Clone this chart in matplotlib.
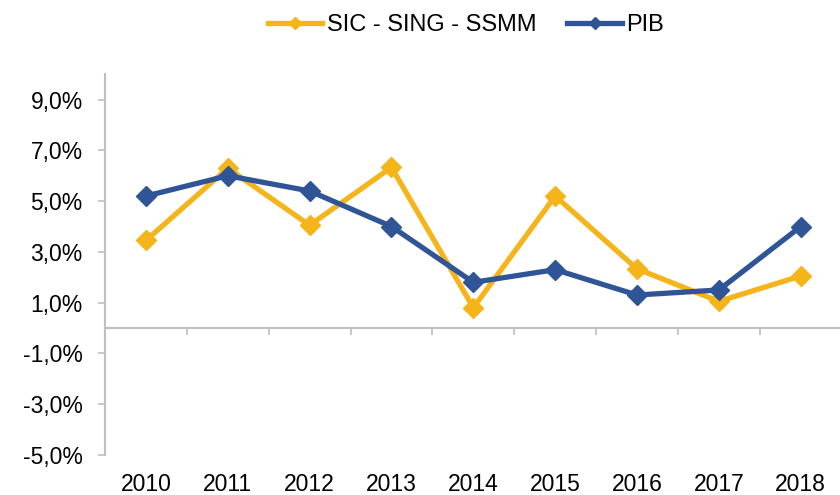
import numpy as np
import matplotlib; matplotlib.use('Agg')
import matplotlib.pyplot as plt
from matplotlib.ticker import FuncFormatter, FixedLocator

plt.rcParams['font.family'] = ['Liberation Sans', 'DejaVu Sans']

years = ['2010', '2011', '2012', '2013', '2014', '2015', '2016', '2017', '2018']
sic = [3.45, 6.3, 4.05, 6.33, 0.8, 5.2, 2.33, 1.05, 2.05]
pib = [5.2, 6.0, 5.4, 4.0, 1.8, 2.3, 1.3, 1.5, 4.0]

yellow = '#F5B41A'
blue = '#2F5597'
grey = '#BFBFBF'

fig = plt.figure(figsize=(8.4, 4.95), dpi=100)
ax = fig.add_axes([0.125, 0.081, 0.877, 0.769])

x = np.arange(len(years))
ax.plot(x, sic, color=yellow, lw=3.8, marker='D', ms=10.5, label='SIC - SING - SSMM')
ax.plot(x, pib, color=blue, lw=3.8, marker='D', ms=10.5, label='PIB')

ax.set_xlim(-0.5, len(years) - 0.5)
ax.set_ylim(-5, 10)
ax.set_yticks(np.arange(-5, 10, 2))
ax.yaxis.set_major_formatter(FuncFormatter(lambda v, p: f'{v:.1f}%'.replace('.', ',')))
ax.tick_params(axis='y', length=5, width=1.2, color=grey, labelsize=16.5, pad=11)

# x axis crosses at zero, ticks between categories
for s in ['top', 'right']:
    ax.spines[s].set_visible(False)
ax.spines['left'].set_color(grey)
ax.spines['left'].set_linewidth(1.5)
ax.spines['bottom'].set_position(('data', 0))
ax.spines['bottom'].set_color(grey)
ax.spines['bottom'].set_linewidth(1.5)
ax.xaxis.set_major_locator(FixedLocator(np.arange(-0.5, len(years), 1.0)))
ax.tick_params(axis='x', length=5, width=1.2, color=grey, labelbottom=False)

for i, yr in enumerate(years):
    ax.text(i, -0.047, yr, transform=ax.get_xaxis_transform(), ha='center', va='top', fontsize=16.5)

fig.legend(loc='upper center', bbox_to_anchor=(0.555, 1.015), ncol=2, frameon=False,
           fontsize=17, handlelength=2.3, columnspacing=1.3, handletextpad=0.2,
           markerscale=0.6)

plt.savefig('out.png', dpi=100)
plt.close()
